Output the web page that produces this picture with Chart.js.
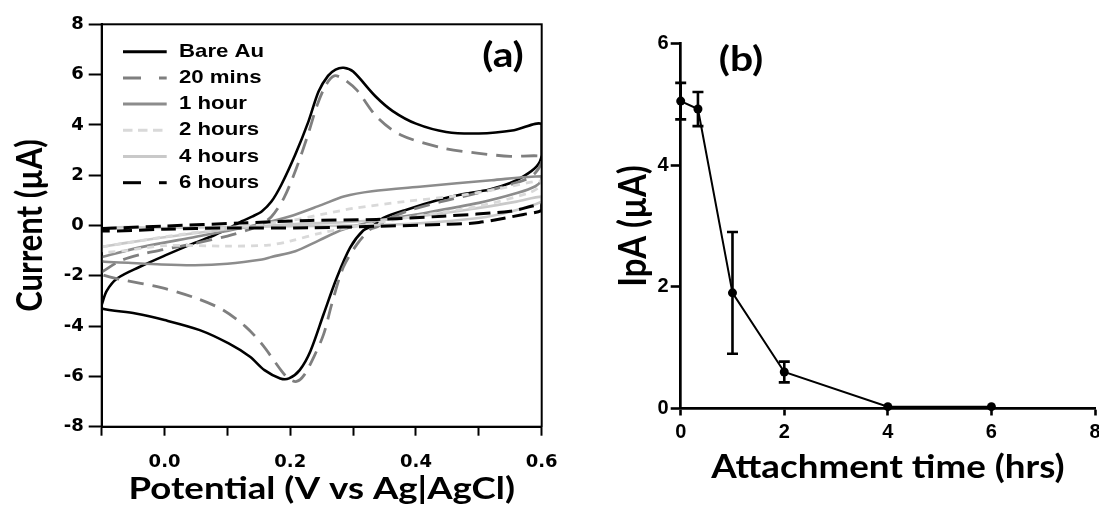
<!DOCTYPE html>
<html>
<head>
<meta charset="utf-8">
<script src="https://cdn.jsdelivr.net/npm/chart.js@4/dist/chart.umd.min.js"></script>
<style>
  html, body { margin: 0; padding: 0; background: #fff; overflow: hidden; }
  #wrap { position: relative; width: 1099px; height: 507px; overflow: hidden; }
  #cv  { position: absolute; left: 0; top: 0; }
  #ipa { position: absolute; left: 560px; top: 0; }
</style>
</head>
<body>
<div id="wrap">
  <canvas id="cv" width="560" height="507"></canvas>
  <canvas id="ipa" width="560" height="507"></canvas>
</div>
<script>
// ---- Panel (a): cyclic voltammograms, potential (V) vs current (µA) ----
const cvLabels = ['Bare Au', '20 mins', '1 hour', '2 hours', '4 hours', '6 hours'];

const bareAuPotential = [-0.100,-0.092,-0.075,-0.040,0.000,0.045,0.080,0.107,0.123,0.140,0.155,0.170,0.186,0.208,0.229,0.245,0.260,0.272,0.285,0.300,0.335,0.363,0.400,0.448,0.500,0.556,0.600,0.600,0.592,0.571,0.550,0.517,0.470,0.438,0.385,0.348,0.332,0.316,0.295,0.274,0.253,0.232,0.215,0.198,0.184,0.159,0.136,0.102,0.056,0.000,-0.046,-0.100,-0.100];
const bareAuCurrent   = [-3.15,-2.60,-2.10,-1.65,-1.20,-0.72,-0.38,-0.05,0.17,0.36,0.57,0.95,1.63,2.82,4.14,5.33,5.95,6.20,6.27,6.12,5.15,4.55,4.05,3.72,3.66,3.79,4.03,2.80,2.35,1.95,1.69,1.43,1.22,1.03,0.63,0.30,0.00,-0.20,-0.89,-2.08,-3.53,-5.00,-5.75,-6.08,-6.08,-5.75,-5.22,-4.69,-4.16,-3.76,-3.50,-3.30,-3.15];

const min20Potential = [-0.100,-0.070,-0.030,0.000,0.050,0.100,0.130,0.150,0.170,0.190,0.210,0.228,0.243,0.257,0.270,0.285,0.306,0.337,0.375,0.443,0.497,0.550,0.600,0.600,0.590,0.576,0.540,0.500,0.440,0.390,0.355,0.340,0.327,0.306,0.284,0.266,0.253,0.237,0.222,0.210,0.198,0.186,0.155,0.128,0.091,0.048,-0.005,-0.071,-0.100,-0.100];
const min20Current   = [-1.85,-1.40,-1.10,-0.95,-0.70,-0.42,-0.20,0.00,0.35,1.10,2.30,3.60,4.80,5.60,5.95,5.82,5.38,4.34,3.61,3.08,2.88,2.75,2.75,2.50,2.10,1.85,1.55,1.30,0.95,0.60,0.25,-0.03,-0.16,-0.75,-1.68,-3.13,-4.33,-5.25,-5.95,-6.20,-6.10,-5.78,-4.72,-4.00,-3.33,-2.87,-2.47,-2.14,-1.95,-1.85];

const hour1Potential = [-0.100,-0.035,0.050,0.136,0.200,0.250,0.285,0.330,0.410,0.520,0.600,0.600,0.590,0.562,0.500,0.400,0.335,0.284,0.245,0.208,0.170,0.155,0.100,0.048,-0.005,-0.058,-0.100,-0.100];
const hour1Current   = [-1.25,-0.85,-0.45,-0.03,0.37,0.82,1.15,1.36,1.55,1.80,1.96,1.80,1.56,1.30,0.90,0.44,0.17,-0.16,-0.60,-1.02,-1.25,-1.35,-1.52,-1.58,-1.55,-1.48,-1.42,-1.25];

const hour2Potential = [-0.100,-0.050,0.000,0.100,0.200,0.250,0.300,0.385,0.465,0.530,0.600,0.600,0.580,0.500,0.400,0.306,0.250,0.200,0.165,0.100,0.000,-0.063,-0.100,-0.100];
const hour2Current   = [-0.85,-0.65,-0.45,-0.10,0.20,0.44,0.68,0.96,1.18,1.45,1.78,1.60,1.30,0.77,0.37,-0.03,-0.29,-0.62,-0.78,-0.82,-0.80,-1.00,-1.05,-0.85];

const hour4Potential = [-0.100,-0.050,0.032,0.123,0.200,0.300,0.400,0.500,0.560,0.600,0.600,0.550,0.500,0.400,0.300,0.200,0.100,0.000,-0.100,-0.100];
const hour4Current   = [-0.85,-0.65,-0.36,-0.09,0.05,0.15,0.35,0.70,0.95,1.15,0.95,0.55,0.30,0.08,0.00,-0.03,-0.06,-0.10,-0.15,-0.85];

const hour6Potential = [-0.100,0.000,0.123,0.231,0.337,0.443,0.550,0.600,0.600,0.571,0.500,0.443,0.337,0.231,0.100,0.000,-0.100,-0.100];
const hour6Current   = [-0.12,-0.02,0.10,0.20,0.24,0.37,0.57,0.83,0.60,0.44,0.12,0.04,-0.03,-0.09,-0.10,-0.15,-0.22,-0.12];

const potentialTicks = [-0.1, 0.0, 0.1, 0.2, 0.3, 0.4, 0.5, 0.6];
const potentialTickLabels = ['', '0.0', '', '0.2', '', '0.4', '', '0.6'];
const currentTicks = [-8, -6, -4, -2, 0, 2, 4, 6, 8];
const currentTickLabels = ['-8', '-6', '-4', '-2', '0', '2', '4', '6', '8'];

// ---- Panel (b): peak anodic current vs attachment time ----
const attachmentHours = [0, 0.333, 1, 2, 4, 6];
const ipaMean  = [5.05, 4.92, 1.90, 0.60, 0.03, 0.03];
const ipaError = [0.30, 0.28, 1.00, 0.17, 0.00, 0.00];

const hourTicks = [0, 2, 4, 6, 8];
const hourTickLabels = ['0', '2', '4', '6', '8'];
const ipaTicks = [0, 2, 4, 6];
const ipaTickLabels = ['0', '2', '4', '6'];

// ---- helpers ----
const zip = (xs, ys) => xs.map((x, i) => ({ x: x, y: ys[i] }));

const cvCurves = [
  [bareAuPotential, bareAuCurrent],
  [min20Potential, min20Current],
  [hour1Potential, hour1Current],
  [hour2Potential, hour2Current],
  [hour4Potential, hour4Current],
  [hour6Potential, hour6Current]
];

// line look per curve; keyDash is the pattern shown in the key sample
const cvStyles = [
  { color: '#000000', dash: [],      keyDash: [],         width: 2.6, order: 5 },
  { color: '#7f7f7f', dash: [16, 9], keyDash: [18, 18],   width: 2.8, order: 4 },
  { color: '#8c8c8c', dash: [],      keyDash: [],         width: 2.6, order: 3 },
  { color: '#d9d9d9', dash: [7, 6],  keyDash: [9.5, 5.5], width: 2.8, order: 1 },
  { color: '#c9c9c9', dash: [],      keyDash: [],         width: 2.6, order: 2 },
  { color: '#000000', dash: [15, 7], keyDash: [18, 18],   width: 3.0, order: 0 }
];

const ticksFrom = (values) => function (scale) { scale.ticks = values.map(v => ({ value: v })); };
// fixed axis band sizes so the plot areas sit where they should
const fixHeight = (h, padRight) => function (scale) {
  scale.height = h;
  scale.paddingLeft = 0;
  scale.paddingRight = padRight;
};
const fixWidth = (w) => function (scale) { scale.width = w; };

// text drawn with a slight horizontal widening
function wideText(ctx, text, x, y, font, sx, vertical) {
  ctx.save();
  ctx.font = font;
  ctx.fillStyle = '#000';
  ctx.textAlign = 'center';
  ctx.textBaseline = 'middle';
  ctx.translate(x, y);
  ctx.scale(sx, 1);
  if (vertical) ctx.rotate(-Math.PI / 2);
  ctx.fillText(text, 0, 0);
  ctx.restore();
}

// axis titles: x title centred under the plot, y title centred beside it
const axisTitles = (xTitle, yTitle) => ({
  id: 'axisTitles',
  afterDraw(chart) {
    const a = chart.chartArea, ctx = chart.ctx;
    wideText(ctx, xTitle.text, (a.left + a.right) / 2, xTitle.y,
      'bold ' + xTitle.size + 'px Lato', xTitle.stretch, false);
    wideText(ctx, yTitle.text, yTitle.x, (a.top + a.bottom) / 2,
      'bold ' + yTitle.size + 'px Lato', yTitle.stretch, true);
  }
});

// box frame around the voltammogram plot
const frameBox = {
  id: 'frameBox',
  afterDraw(chart) {
    const a = chart.chartArea, ctx = chart.ctx;
    ctx.save();
    ctx.strokeStyle = '#000';
    ctx.lineWidth = 2;
    ctx.strokeRect(a.left, a.top, a.right - a.left, a.bottom - a.top);
    ctx.restore();
  }
};

// key of line samples inside the voltammogram plot
const cvKey = {
  id: 'cvKey',
  afterDatasetsDraw(chart) {
    const a = chart.chartArea, ctx = chart.ctx;
    chart.data.datasets.forEach((d, i) => {
      const y = a.top + 27.4 + i * 26.2;
      ctx.save();
      ctx.strokeStyle = d.borderColor;
      ctx.lineWidth = 3;
      ctx.setLineDash(d.keyDash);
      ctx.beginPath();
      ctx.moveTo(a.left + 21.3, y);
      ctx.lineTo(a.left + 65, y);
      ctx.stroke();
      ctx.restore();
      ctx.save();
      ctx.fillStyle = '#000';
      ctx.font = 'bold 18.5px "Liberation Sans"';
      ctx.textAlign = 'left';
      ctx.textBaseline = 'middle';
      ctx.translate(a.left + 77.3, y);
      ctx.scale(1.2, 1);
      ctx.fillText(d.label, 0, 0);
      ctx.restore();
    });
  }
};

// panel letter, placed relative to the plot area
const panelTag = (text, corner, dx, dy) => ({
  id: 'panelTag',
  afterDraw(chart) {
    const a = chart.chartArea;
    const x = (corner === 'right' ? a.right : a.left) + dx;
    wideText(chart.ctx, text, x, a.top + dy, 'bold 34px Lato', 1.2, false);
  }
});

// vertical error bars with caps
const errorBars = {
  id: 'errorBars',
  beforeDatasetsDraw(chart) {
    const xs = chart.scales.x, ys = chart.scales.y, ctx = chart.ctx;
    ctx.save();
    ctx.strokeStyle = '#000';
    ctx.lineWidth = 2.6;
    attachmentHours.forEach((h, i) => {
      const e = ipaError[i];
      if (!e) return;
      const px = xs.getPixelForValue(h);
      const top = ys.getPixelForValue(ipaMean[i] + e);
      const bot = ys.getPixelForValue(ipaMean[i] - e);
      ctx.beginPath();
      ctx.moveTo(px, top); ctx.lineTo(px, bot);
      ctx.moveTo(px - 5.5, top); ctx.lineTo(px + 5.5, top);
      ctx.moveTo(px - 5.5, bot); ctx.lineTo(px + 5.5, bot);
      ctx.stroke();
    });
    ctx.restore();
  }
};

function build() {
  Chart.defaults.color = '#000';

  new Chart(document.getElementById('cv'), {
    type: 'scatter',
    data: {
      datasets: cvCurves.map((c, i) => ({
        label: cvLabels[i],
        data: zip(c[0], c[1]),
        showLine: true,
        borderColor: cvStyles[i].color,
        borderDash: cvStyles[i].dash,
        keyDash: cvStyles[i].keyDash,
        borderWidth: cvStyles[i].width,
        borderCapStyle: 'butt',
        pointRadius: 0,
        tension: 0.3,
        fill: false,
        order: cvStyles[i].order
      }))
    },
    options: {
      responsive: false,
      animation: false,
      devicePixelRatio: 1,
      events: [],
      layout: { padding: { left: 0, top: 24.3, right: 18.3, bottom: 0 } },
      plugins: { legend: { display: false }, tooltip: { enabled: false } },
      scales: {
        x: {
          type: 'linear', min: -0.1, max: 0.6,
          afterBuildTicks: ticksFrom(potentialTicks),
          afterFit: fixHeight(80.3, 16),
          ticks: {
            autoSkip: false, maxRotation: 0, minRotation: 0, padding: 16, color: '#000',
            font: { family: 'DejaVu Sans', weight: 'bold', size: 18 },
            callback: (v, i) => potentialTickLabels[i]
          },
          grid: { drawOnChartArea: false, drawTicks: true, tickLength: 9, tickWidth: 2, tickColor: '#000' },
          border: { display: true, color: '#000', width: 2 }
        },
        y: {
          type: 'linear', min: -8, max: 8,
          afterBuildTicks: ticksFrom(currentTicks),
          afterFit: fixWidth(101.7),
          ticks: {
            autoSkip: false, padding: 5, color: '#000',
            font: { family: 'DejaVu Sans', weight: 'bold', size: 18 },
            callback: (v, i) => currentTickLabels[i]
          },
          grid: { drawOnChartArea: false, drawTicks: true, tickLength: 13, tickWidth: 2, tickColor: '#000' },
          border: { display: true, color: '#000', width: 2 }
        }
      }
    },
    plugins: [
      frameBox, cvKey,
      panelTag('(a)', 'right', -38.7, 31.7),
      axisTitles(
        { text: 'Potential (V vs Ag|AgCl)', y: 488.5, size: 31, stretch: 1.18 },
        { text: 'Current (µA)', x: 30, size: 31, stretch: 1.18 }
      )
    ]
  });

  new Chart(document.getElementById('ipa'), {
    type: 'scatter',
    data: {
      datasets: [{
        label: 'IpA',
        data: zip(attachmentHours, ipaMean),
        showLine: true,
        borderColor: '#000',
        borderWidth: 2,
        pointRadius: 4.5,
        pointBackgroundColor: '#000',
        pointBorderColor: '#000',
        pointBorderWidth: 0,
        tension: 0,
        clip: false
      }]
    },
    options: {
      responsive: false,
      animation: false,
      devicePixelRatio: 1,
      events: [],
      layout: { padding: { left: 0, top: 43.3, right: 25, bottom: 0 } },
      plugins: { legend: { display: false }, tooltip: { enabled: false } },
      scales: {
        x: {
          type: 'linear', min: 0, max: 8,
          afterBuildTicks: ticksFrom(hourTicks),
          afterFit: fixHeight(98.5, 10),
          ticks: {
            autoSkip: false, maxRotation: 0, minRotation: 0, padding: 4.5, color: '#000',
            font: { family: 'Liberation Sans', weight: 'bold', size: 20 },
            callback: (v, i) => hourTickLabels[i]
          },
          grid: { drawOnChartArea: false, drawTicks: true, tickLength: 7, tickWidth: 2.6, tickColor: '#000' },
          border: { display: true, color: '#000', width: 2.7 }
        },
        y: {
          type: 'linear', min: 0, max: 6,
          afterBuildTicks: ticksFrom(ipaTicks),
          afterFit: fixWidth(120.7),
          ticks: {
            autoSkip: false, padding: 2, color: '#000',
            font: { family: 'Liberation Sans', weight: 'bold', size: 20 },
            callback: (v, i) => ipaTickLabels[i]
          },
          grid: { drawOnChartArea: false, drawTicks: true, tickLength: 10, tickWidth: 2.6, tickColor: '#000' },
          border: { display: true, color: '#000', width: 2.7 }
        }
      }
    },
    plugins: [
      errorBars,
      panelTag('(b)', 'left', 60.3, 16.7),
      axisTitles(
        { text: 'Attachment time (hrs)', y: 467.5, size: 32.5, stretch: 1.13 },
        { text: 'IpA (µA)', x: 74, size: 33, stretch: 1.13 }
      )
    ]
  });
}

const fontList = ['bold 31px Lato', 'bold 18px "DejaVu Sans"', 'bold 20px "Liberation Sans"'];
const ready = (document.fonts && document.fonts.load)
  ? Promise.all(fontList.map(f => document.fonts.load(f))).catch(() => null)
  : Promise.resolve();
ready.then(build, build);
</script>
</body>
</html>
